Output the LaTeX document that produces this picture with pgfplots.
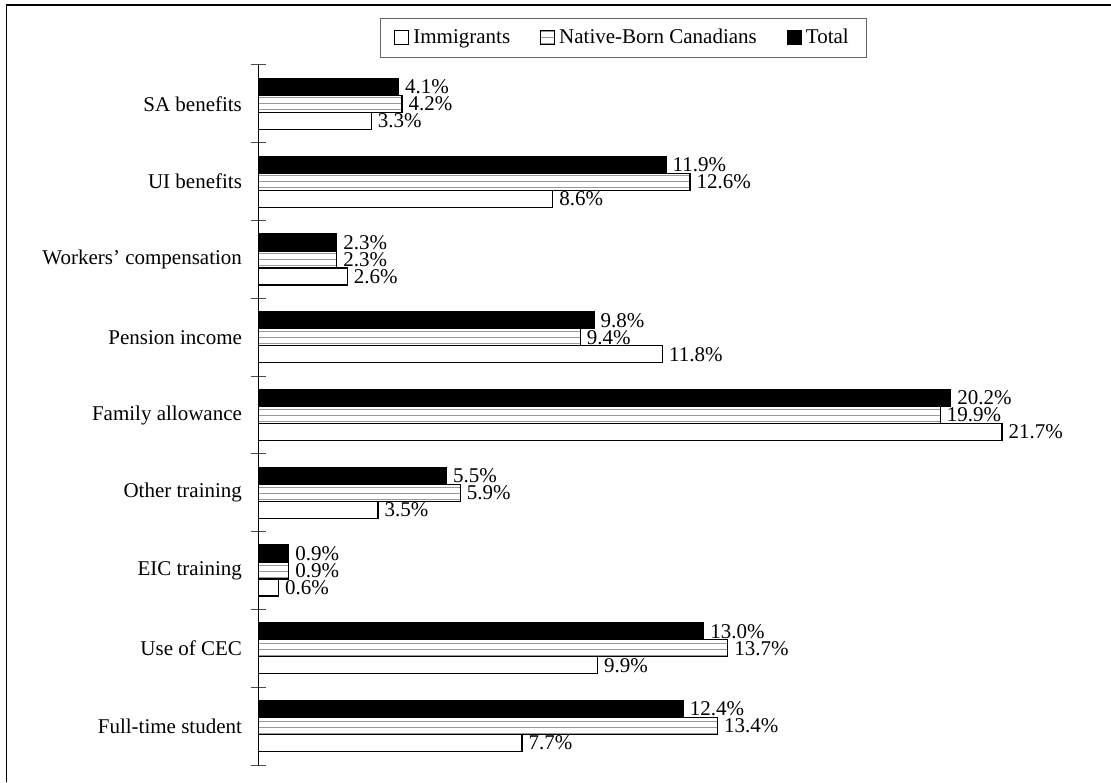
\documentclass[border=0pt]{standalone}
\usepackage{fontspec}
\setmainfont{Liberation Serif}
\usepackage{pgfplots}
\pgfplotsset{compat=1.18}
\usetikzlibrary{patterns}
\begin{document}
\begin{tikzpicture}[font=\fontsize{10.5}{12}\selectfont]
\path[use as bounding box] (0,0) rectangle (555.5pt,391pt);
\draw[line width=0.8pt] (3.25pt,0) -- (3.25pt,388.5pt);
\draw[line width=1pt] (2.85pt,388.5pt) -- (555.5pt,388.5pt);
\begin{axis}[
  at={(129pt,8.5pt)}, anchor=south west,
  scale only axis, width=385.75pt, height=350pt,
  xbar, bar width=8.5pt,
  xmin=0, xmax=22.5, ymin=-0.5, ymax=8.5,
  axis x line=none, axis y line*=left,
  y axis line style={line width=0.5pt},
  ytick={0,...,8},
  yticklabels={Full-time student,Use of CEC,EIC training,Other training,Family allowance,Pension income,Workers’ compensation,UI benefits,SA benefits},
  major tick length=0pt,
  minor ytick={-0.5,0.5,...,8.5},
  minor tick length=7.5pt,
  tick align=center,
  minor tick style={black!70, line width=0.5pt},
  yticklabel style={xshift=-4.5pt, font=\fontsize{10.5}{12}\selectfont},
  nodes near coords={\pgfmathprintnumber[fixed,precision=1,fixed zerofill]{\pgfplotspointmeta}\%},
  nodes near coords align={horizontal},
  every node near coord/.append style={inner xsep=3pt, inner ysep=0pt, font=\fontsize{10.5}{12}\selectfont},
  point meta=x,
  /pgf/number format/assume math mode=true,
  legend columns=3,
  legend style={at={(0.4738,1.0386)}, anchor=center, draw=black!60, line width=0.5pt,
    font=\fontsize{10.5}{12}\selectfont, inner xsep=7pt, inner ysep=3.5pt,
    /tikz/every even column/.append style={column sep=13pt}},
  legend image code/.code={\draw[#1,line width=0.5pt] (0pt,-3.5pt) rectangle (7pt,3.5pt);},
]
\addplot[bar shift=-8.5pt, draw=black, fill=white, line width=0.6pt] coordinates {
(7.7,0) (9.9,1) (0.6,2) (3.5,3) (21.7,4) (11.8,5) (2.6,6) (8.6,7) (3.3,8)};
\addlegendentry{Immigrants}
\addplot[bar shift=0pt, draw=black, pattern=horizontal lines, pattern color=black!40, line width=0.6pt] coordinates {
(13.4,0) (13.7,1) (0.9,2) (5.9,3) (19.9,4) (9.4,5) (2.3,6) (12.6,7) (4.2,8)};
\addlegendentry{Native-Born Canadians}
\addplot[bar shift=8.5pt, draw=black, fill=black, line width=0.6pt] coordinates {
(12.4,0) (13.0,1) (0.9,2) (5.5,3) (20.2,4) (9.8,5) (2.3,6) (11.9,7) (4.1,8)};
\addlegendentry{Total}
\end{axis}
\end{tikzpicture}
\end{document}
